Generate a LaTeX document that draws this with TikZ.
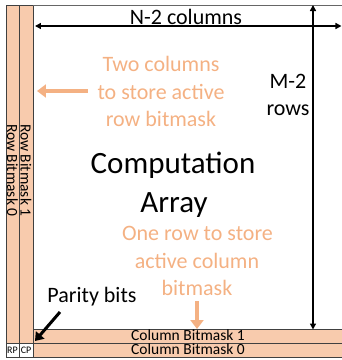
\documentclass[tikz,border=0pt]{standalone}
\usepackage{fontspec}
\setmainfont{Carlito}
\usetikzlibrary{arrows.meta}
\definecolor{peach}{HTML}{F8CBAD}
\definecolor{orng}{HTML}{F4B183}
\definecolor{edge}{HTML}{404040}
\tikzset{
  cell/.style={draw=edge, line width=0.8pt, fill=peach},
  wcell/.style={draw=edge, line width=0.8pt, fill=white},
  otext/.style={text=orng, font=\fontsize{22}{22}\selectfont, inner sep=0pt, anchor=base},
  btext/.style={text=black, font=\fontsize{22}{22}\selectfont, inner sep=0pt, anchor=base},
  bigtext/.style={text=black, font=\fontsize{31}{31}\selectfont, inner sep=0pt, anchor=base},
  bartext/.style={text=black, font=\fontsize{15.5}{15.5}\selectfont, inner sep=0pt, text height=9pt, text depth=1.5pt, anchor=base},
  rowtext/.style={text=black, font=\fontsize{15.5}{15.5}\selectfont, inner sep=0pt, rotate=-90, anchor=west},
  small/.style={text=black, font=\fontsize{10}{10}\selectfont, inner sep=0pt},
  oarrow/.style={draw=orng, line width=4pt, -{Triangle[length=9pt,width=13pt]}},
  barrow/.style={draw=black, line width=3pt, -{Triangle[length=8pt,width=11pt]}},
  dimarrow/.style={draw=black, line width=1.4pt, {Triangle[length=6pt,width=6pt]}-{Triangle[length=6pt,width=6pt]}}
}
\begin{document}
\begin{tikzpicture}[x=1pt,y=-1pt]
\useasboundingbox (0,0) rectangle (342,360);
% columns
\draw[cell] (6,5.5) rectangle (19,343);
\draw[cell] (19,5.5) rectangle (33,343);
% bars
\draw[cell] (33,329.5) rectangle (344,343);
\draw[cell] (33,343) rectangle (344,357);
% parity cells
\draw[wcell] (6,343) rectangle (19,357);
\draw[wcell] (19,343) rectangle (33,357);
\node[small] (rp) at (12.5,350.5) {RP};
\node[small] (cp) at (26,350.5) {CP};
% top line
\draw[draw=edge!80, line width=0.8pt] (33,5.5) -- (344,5.5);
% column/row labels
\node[rowtext] (rb0) at (12.5,124) {Row Bitmask 0};
\node[rowtext] (rb1) at (26,124) {Row Bitmask 1};
\node[bartext] (cb1) at (188,340.5) {Column Bitmask 1};
\node[bartext] (cb0) at (188,354.5) {Column Bitmask 0};
% dimension arrows
\coordinate (hl) at (35,26);
\coordinate (hr) at (341.5,26);
\draw[dimarrow] (hl) -- (hr);
\coordinate (vt) at (313,5);
\coordinate (vb) at (313,329.5);
\draw[dimarrow] (vt) -- (vb);
\node[btext] (ncol) at (186,24) {N-2 columns};
\node[btext] (mrow1) at (288,88) {M-2};
\node[btext] (mrow2) at (288,115) {rows};
% center text
\node[bigtext] (comp) at (173,173) {Computation};
\node[bigtext] (arr) at (174,212) {Array};
% orange texts
\node[otext] (t1) at (161,71) {Two columns};
\node[otext] (t2) at (161,99) {to store active};
\node[otext] (t3) at (161,126) {row bitmask};
\node[otext] (o1) at (197.5,240) {One row to store};
\node[otext] (o2) at (197,268) {active column};
\node[otext] (o3) at (197,295) {bitmask};
% orange arrows
\coordinate (la) at (88,91);
\coordinate (lb) at (37,91);
\draw[oarrow] (la) -- (lb);
\coordinate (da) at (197,301);
\coordinate (db) at (197,329);
\draw[oarrow] (da) -- (db);
% parity
\node[btext] (par) at (92,302) {Parity bits};
\coordinate (pa) at (60,312);
\coordinate (pb) at (35,341);
\draw[barrow] (pa) -- (pb);
\end{tikzpicture}
\end{document}
